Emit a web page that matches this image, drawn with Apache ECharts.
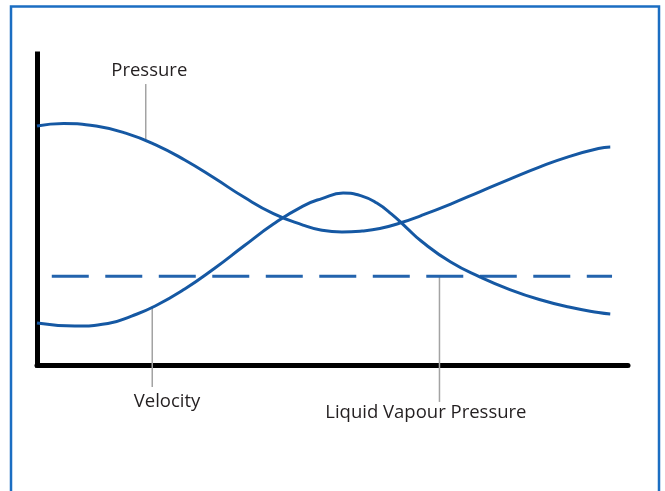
<!DOCTYPE html>
<html>
<head>
<meta charset="utf-8">
<script src="https://cdn.jsdelivr.net/npm/echarts@6/dist/echarts.min.js"></script>
<style>
html,body{margin:0;padding:0;background:#fff;}
#c{width:665px;height:491px;}
</style>
</head>
<body>
<div id="c"></div>
<script>
// Pressure curve: x positions (0-100) and values (0-100)
const pressureX = [0,4.5,10,15,20,25,30,35,40,45,48,51.6,55,58,61.4,65,70,75,80,85,90,95,97];
const pressure  = [76.36,77.16,76.36,74.12,70.45,65.50,59.74,53.67,48.40,44.73,43.13,42.49,42.81,43.61,45.37,47.76,51.44,55.43,59.42,63.26,66.61,69.17,69.65];
// Velocity curve
const velocityX = [0,6.4,12,16,20,25,30,35,40,45,48.2,51.8,55,57.5,60,62.5,65,70,75,80,85,90,95,97];
const velocity  = [13.42,12.46,13.26,15.65,18.85,24.28,30.83,38.02,45.05,50.80,53.19,54.95,53.99,51.76,48.24,43.93,39.62,32.91,28.12,24.12,20.93,18.53,16.77,16.29];
// Liquid vapour pressure (constant)
const vapourX = [2.5, 97.3];
const vapourY = [28.4, 28.4];
// Annotation labels and leader lines
const labelNames = ['Pressure','Velocity','Liquid Vapour Pressure'];
const labelX = [19.0, 22.0, 65.8];
const labelY = [94.0, -11.8, -15.4];
const leaderX = [[18.4,18.4],[19.5,19.5],[68.1,68.1]];
const leaderY = [[89.8,72.0],[18.8,-7.0],[28.4,-11.8]];

const zip = (a,b) => a.map((v,i)=>[v,b[i]]);
const FONT = '"Open Sans", "Noto Sans", sans-serif';

const series = [
  {type:'line', data: zip(vapourX, vapourY), symbol:'none', z:2,
   lineStyle:{color:'#2363ad', width:3, type:[37,16.5]}},
  {type:'line', data: zip(pressureX, pressure), smooth:0.5, symbol:'none', z:3,
   lineStyle:{color:'#1558a3', width:3}},
  {type:'line', data: zip(velocityX, velocity), smooth:0.5, symbol:'none', z:3,
   lineStyle:{color:'#1558a3', width:3}}
];
leaderX.forEach((lx,i)=>{
  series.push({type:'line', data: zip(lx, leaderY[i]), symbol:'none', clip:false, z:1,
    lineStyle:{color:'#a3a3a3', width:1.5}});
});
series.push({type:'scatter', clip:false, symbolSize:0, z:5,
  itemStyle:{opacity:1},
  data: labelNames.map((n,i)=>({name:n, value:[labelX[i], labelY[i]]})),
  label:{show:true, position:'inside', formatter:'{b}', color:'#231f20',
    fontFamily:FONT, fontSize:18.5}});

const chart = echarts.init(document.getElementById('c'), null, {renderer:'canvas'});
chart.setOption({
  animation:false,
  backgroundColor:'#fff',
  grid:{left:37, right:37, top:54, bottom:126},
  xAxis:{type:'value', min:0, max:100,
    axisLine:{show:true, onZero:false, lineStyle:{color:'#000', width:5}},
    axisTick:{show:false}, axisLabel:{show:false}, splitLine:{show:false}},
  yAxis:{type:'value', min:0, max:99.4,
    axisLine:{show:true, onZero:false, lineStyle:{color:'#000', width:5, cap:'square'}},
    axisTick:{show:false}, axisLabel:{show:false}, splitLine:{show:false}},
  graphic:[{type:'rect', silent:true, z:-1,
    shape:{x:11, y:6.5, width:648, height:520},
    style:{fill:'none', stroke:'#1b6ec2', lineWidth:2.5}}],
  series: series
});
</script>
</body>
</html>
